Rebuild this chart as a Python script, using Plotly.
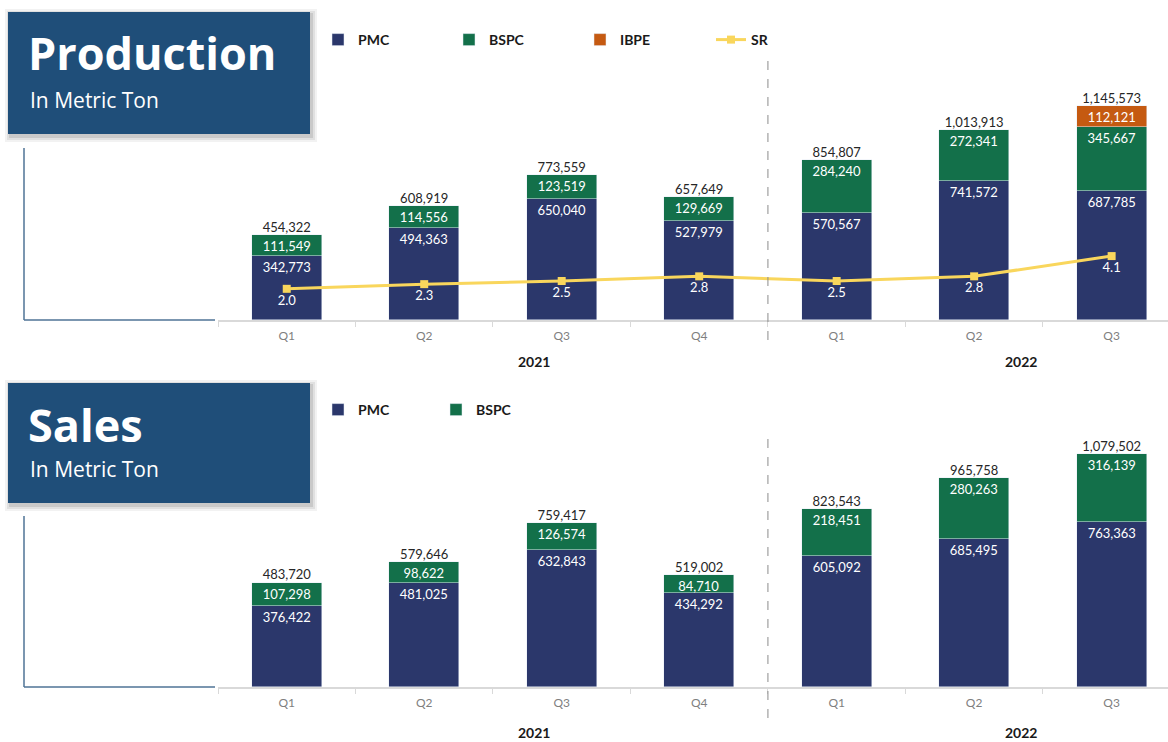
import plotly.graph_objects as go

# ---------------- data ----------------
quarters = ["Q1", "Q2", "Q3", "Q4", "Q1", "Q2", "Q3"]
years = ["2021", "2022"]

prod_pmc = [342773, 494363, 650040, 527979, 570567, 741572, 687785]
prod_bspc = [111549, 114556, 123519, 129669, 284240, 272341, 345667]
prod_ibpe = [None, None, None, None, None, None, 112121]
prod_total = [454322, 608919, 773559, 657649, 854807, 1013913, 1145573]
prod_sr = [2.0, 2.3, 2.5, 2.8, 2.5, 2.8, 4.1]

sales_pmc = [376422, 481025, 632843, 434292, 605092, 685495, 763363]
sales_bspc = [107298, 98622, 126574, 84710, 218451, 280263, 316139]
sales_total = [483720, 579646, 759417, 519002, 823543, 965758, 1079502]

# ---------------- style ----------------
W, H = 1168, 742
C_PMC = "#2B376B"
C_BSPC = "#13704A"
C_IBPE = "#C55A11"
C_SR = "#F9D65C"
C_BOX = "#1F4E79"
FONT = "Lato"


def px(x):
    return x / W


def py(y):
    return 1 - y / H


xs = list(range(len(quarters)))

fig = go.Figure()

bar_common = dict(width=0.51, textposition="inside", insidetextanchor="end",
                  textfont=dict(color="white", size=13, family=FONT),
                  constraintext="none", texttemplate="%{y:,}", textangle=0)

# Production
fig.add_trace(go.Bar(x=xs, y=prod_pmc, name="PMC", marker_color=C_PMC,
                     xaxis="x", yaxis="y", legend="legend", **bar_common))
fig.add_trace(go.Bar(x=xs, y=prod_bspc, name="BSPC", marker_color=C_BSPC,
                     xaxis="x", yaxis="y", legend="legend", **bar_common))
fig.add_trace(go.Bar(x=xs, y=prod_ibpe, name="IBPE", marker_color=C_IBPE,
                     xaxis="x", yaxis="y", legend="legend", **bar_common))
fig.add_trace(go.Scatter(x=xs, y=prod_total, mode="text", text=[f"{v:,}" for v in prod_total],
                         textposition="top center", textfont=dict(color="#262626", size=13, family=FONT),
                         showlegend=False, xaxis="x", yaxis="y", hoverinfo="skip"))
fig.add_trace(go.Scatter(x=xs, y=prod_sr, name="SR", mode="lines+markers+text",
                         line=dict(color=C_SR, width=3), marker=dict(symbol="square", size=8, color=C_SR),
                         text=[f"{v:.1f}" for v in prod_sr], textposition="bottom center",
                         textfont=dict(color="white", size=13, family=FONT),
                         xaxis="x", yaxis="y2", legend="legend"))

# Sales
fig.add_trace(go.Bar(x=xs, y=sales_pmc, name="PMC", marker_color=C_PMC,
                     xaxis="x2", yaxis="y3", legend="legend2", **bar_common))
fig.add_trace(go.Bar(x=xs, y=sales_bspc, name="BSPC", marker_color=C_BSPC,
                     xaxis="x2", yaxis="y3", legend="legend2", **bar_common))
fig.add_trace(go.Scatter(x=xs, y=sales_total, mode="text", text=[f"{v:,}" for v in sales_total],
                         textposition="top center", textfont=dict(color="#262626", size=13, family=FONT),
                         showlegend=False, xaxis="x2", yaxis="y3", hoverinfo="skip"))

xaxis_common = dict(domain=[px(218), 1], range=[-0.5, 6.41], tickmode="array", tickvals=xs,
                    ticktext=quarters, ticks="", showgrid=False, zeroline=False,
                    showline=True, linecolor="#D9D9D9", linewidth=1.5,
                    tickfont=dict(color="#7F7F7F", size=12, family=FONT),
                    ticklabelstandoff=4,
                    minor=dict(tickvals=[i - 0.5 for i in range(8)], ticks="outside",
                               ticklen=5, tickcolor="#D9D9D9", tickwidth=1))

yaxis_hidden = dict(visible=False, showgrid=False, zeroline=False)

legend_font = dict(size=14, color="#1A1A1A", family=FONT, weight="bold")

fig.update_layout(
    width=W, height=H, margin=dict(l=0, r=0, t=0, b=0),
    paper_bgcolor="white", plot_bgcolor="white",
    barmode="stack", bargap=0,
    font=dict(family=FONT),
    xaxis=dict(anchor="y", **xaxis_common),
    xaxis2=dict(anchor="y3", **xaxis_common),
    yaxis=dict(domain=[py(320), py(30)], range=[0, 1551500], **yaxis_hidden),
    yaxis2=dict(domain=[py(320), py(30)], range=[0, 18.6], overlaying="y", anchor="x", **yaxis_hidden),
    yaxis3=dict(domain=[py(687), py(400)], range=[0, 1328810], anchor="x2", **yaxis_hidden),
    legend=dict(orientation="h", x=px(318), y=py(40), xanchor="left", yanchor="middle",
                traceorder="normal", entrywidth=86, font=legend_font,
                bgcolor="rgba(0,0,0,0)"),
    legend2=dict(orientation="h", x=px(318), y=py(410), xanchor="left", yanchor="middle",
                 traceorder="normal", entrywidth=73, font=legend_font,
                 bgcolor="rgba(0,0,0,0)"),
    showlegend=True,
)

shapes = []
# title boxes with shadows
for (y0, y1) in [(12, 134), (383, 503)]:
    for k, op in [(6, 0.05), (4, 0.07), (2, 0.1)]:
        shapes.append(dict(type="rect", xref="paper", yref="paper",
                           x0=px(8 - k + 3), x1=px(310 + k + 1), y0=py(y1 + k + 2), y1=py(y0 - k + 3),
                           fillcolor=f"rgba(0,0,0,{op})", line=dict(width=0), layer="above"))
    shapes.append(dict(type="rect", xref="paper", yref="paper", x0=px(8), x1=px(310),
                       y0=py(y1), y1=py(y0), fillcolor=C_BOX, line=dict(width=0), layer="above"))
# left decorative lines
for (ytop, ybase) in [(148, 320), (516, 687)]:
    shapes.append(dict(type="line", xref="paper", yref="paper", x0=px(24), x1=px(24),
                       y0=py(ytop), y1=py(ybase), line=dict(color="#4F7396", width=1.5)))
    shapes.append(dict(type="line", xref="paper", yref="paper", x0=px(24), x1=px(215),
                       y0=py(ybase), y1=py(ybase), line=dict(color="#4F7396", width=1.5)))
# year separators
shapes.append(dict(type="line", xref="x", yref="paper", x0=3.5, x1=3.5, y0=py(340), y1=py(58),
                   line=dict(color="#8C8C8C", width=1, dash="dash")))
shapes.append(dict(type="line", xref="x2", yref="paper", x0=3.5, x1=3.5, y0=py(718), y1=py(435),
                   line=dict(color="#8C8C8C", width=1, dash="dash")))

annotations = []
for title, ty, sy in [("Production", 52, 100), ("Sales", 424, 469)]:
    annotations.append(dict(text=title, xref="paper", yref="paper", x=px(26), y=py(ty),
                            xanchor="left", yanchor="middle", showarrow=False,
                            font=dict(family="Open Sans", size=45, color="white", weight="bold")))
    annotations.append(dict(text="In Metric Ton", xref="paper", yref="paper", x=px(28), y=py(sy),
                            xanchor="left", yanchor="middle", showarrow=False,
                            font=dict(family="Open Sans", size=21, color="white")))
for xr, yp in [("x", 361), ("x2", 732)]:
    for yr, xv in zip(years, [1.8, 5.34]):
        annotations.append(dict(text=f"<b>{yr}</b>", xref=xr, yref="paper", x=xv, y=py(yp),
                                xanchor="center", yanchor="middle", showarrow=False,
                                font=dict(family=FONT, size=14, color="#1A1A1A")))

fig.update_layout(shapes=shapes, annotations=annotations)

fig.write_html("out.html", config={"displayModeBar": False},
               post_script="document.body.style.margin='0';document.body.style.padding='0';")
